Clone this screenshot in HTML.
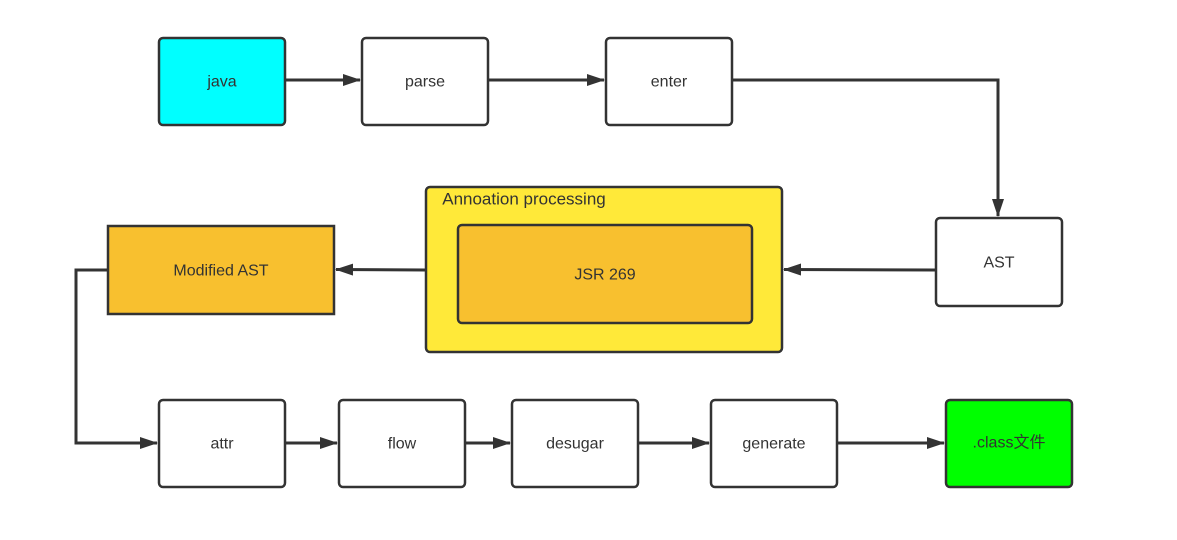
<!DOCTYPE html>
<html><head><meta charset="utf-8"><style>
html,body{margin:0;padding:0;background:#fff;}
svg{display:block}
text{font-family:"Liberation Sans","Noto Sans CJK SC",sans-serif;font-size:16px;fill:#333;text-anchor:middle;dominant-baseline:central}
</style></head><body>
<svg width="1177" height="540" viewBox="0 0 1177 540" xmlns="http://www.w3.org/2000/svg">
<defs><marker id="a" markerWidth="18" markerHeight="12" refX="17" refY="6" orient="auto" markerUnits="userSpaceOnUse"><path d="M0,0 L18,6 L0,12 z" fill="#333"/></marker></defs>
<g stroke="#333" stroke-width="3" fill="none">
<line x1="285" y1="80" x2="360" y2="80" marker-end="url(#a)"/>
<line x1="488" y1="80" x2="604" y2="80" marker-end="url(#a)"/>
<polyline points="732,80 998,80 998,216" marker-end="url(#a)"/>
<line x1="936" y1="270" x2="784" y2="269.5" marker-end="url(#a)"/>
<line x1="426" y1="270" x2="336" y2="269.5" marker-end="url(#a)"/>
<polyline points="108,270 76,270 76,443 157,443" marker-end="url(#a)"/>
<line x1="285" y1="443" x2="337" y2="443" marker-end="url(#a)"/>
<line x1="465" y1="443" x2="510" y2="443" marker-end="url(#a)"/>
<line x1="638" y1="443" x2="709" y2="443" marker-end="url(#a)"/>
<line x1="837" y1="443" x2="944" y2="443" marker-end="url(#a)"/>
</g>
<g stroke="#333" stroke-width="2.5">
<rect x="159" y="38" width="126" height="87" rx="4" fill="#00ffff"/>
<rect x="362" y="38" width="126" height="87" rx="4" fill="#fff"/>
<rect x="606" y="38" width="126" height="87" rx="4" fill="#fff"/>
<rect x="936" y="218" width="126" height="88" rx="4" fill="#fff"/>
<rect x="426" y="187" width="356" height="165" rx="4" fill="#ffe939"/>
<rect x="458" y="225" width="294" height="98" rx="4" fill="#f8c02f"/>
<rect x="108" y="226" width="226" height="88" fill="#f8c02f"/>
<rect x="159" y="400" width="126" height="87" rx="4" fill="#fff"/>
<rect x="339" y="400" width="126" height="87" rx="4" fill="#fff"/>
<rect x="512" y="400" width="126" height="87" rx="4" fill="#fff"/>
<rect x="711" y="400" width="126" height="87" rx="4" fill="#fff"/>
<rect x="946" y="400" width="126" height="87" rx="4" fill="#00ff00"/>
</g>
<text x="222" y="82">java</text>
<text x="425" y="82">parse</text>
<text x="669" y="82">enter</text>
<text x="999" y="263">AST</text>
<text x="524" y="199" style="font-size:17px">Annoation processing</text>
<text x="605" y="275">JSR 269</text>
<text x="221" y="271">Modified AST</text>
<text x="222" y="444">attr</text>
<text x="402" y="444">flow</text>
<text x="575" y="444">desugar</text>
<text x="774" y="444">generate</text>
<text x="1009" y="443">.class文件</text>
</svg>
</body></html>
